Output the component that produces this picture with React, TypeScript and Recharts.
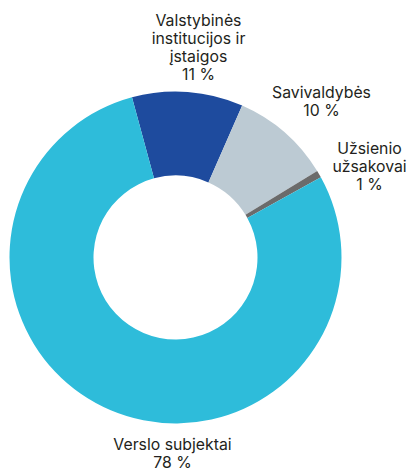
import React from "react";
import { PieChart, Pie, Cell } from "recharts";

const categories = ["Valstybinės institucijos ir įstaigos", "Savivaldybės", "Užsienio užsakovai", "Verslo subjektai"];
const shares = [10.8, 9.7, 0.7, 78.8];
const shareLabels = ["11 %", "10 %", "1 %", "78 %"];
const labelLines = [
  ["Valstybinės", "institucijos ir", "įstaigos"],
  ["Savivaldybės"],
  ["Užsienio", "užsakovai"],
  ["Verslo subjektai"],
];

const COLORS = ["#1E4B9E", "#BCCAD3", "#6B6B6B", "#2EBCDA"];

// where each label block sits (first baseline), relative to the pie centre
const LABEL_POS = [
  { dx: 23, dy: -232 },
  { dx: 146, dy: -160 },
  { dx: 194, dy: -104 },
  { dx: -3, dy: 192 },
];
const LINE_H = 18.3;

const data = categories.map((name, i) => ({ name, value: shares[i] }));

const renderLabel = (props: any) => {
  const { cx, cy, index } = props;
  const pos = LABEL_POS[index];
  const lines = [...labelLines[index], shareLabels[index]];
  const x = cx + pos.dx;
  const y = cy + pos.dy;
  return (
    <text
      x={x}
      y={y}
      textAnchor="middle"
      fill="#231F20"
      fontFamily="Inter, 'Noto Sans', sans-serif"
      fontSize={15.8}
    >
      {lines.map((l, i) => (
        <tspan key={i} x={x} dy={i === 0 ? 0 : LINE_H}>
          {l}
        </tspan>
      ))}
    </text>
  );
};

export default function App() {
  return (
    <div style={{ width: 411, height: 471, background: "#fff" }}>
      <style>{`body{margin:0}`}</style>
      <PieChart width={411} height={471} margin={{ top: 0, right: 0, bottom: 0, left: 0 }}>
        <Pie
          data={data}
          dataKey="value"
          cx={175.5}
          cy={257.5}
          innerRadius={82}
          outerRadius={166}
          startAngle={105.2}
          endAngle={-254.8}
          stroke="none"
          labelLine={false}
          label={renderLabel}
          isAnimationActive={false}
        >
          {data.map((entry, i) => (
            <Cell key={entry.name} fill={COLORS[i]} />
          ))}
        </Pie>
      </PieChart>
    </div>
  );
}
